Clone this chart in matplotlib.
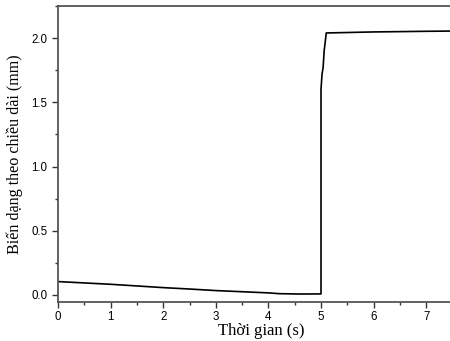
import matplotlib
matplotlib.use("Agg")
import matplotlib.pyplot as plt
from matplotlib.ticker import MultipleLocator

t = [0.0, 1.0, 2.0, 2.5, 3.0, 3.5, 4.0, 4.2, 4.6, 5.0, 5.0, 5.02, 5.04, 5.06, 5.10, 6.0, 7.0, 7.5]
strain = [0.104, 0.083, 0.057, 0.046, 0.034, 0.025, 0.016, 0.010, 0.007, 0.008, 1.60, 1.72, 1.77, 1.90, 2.04, 2.048, 2.053, 2.055]

xlabel = "Thời gian (s)"
ylabel = "Biến dạng theo chiều dài (mm)"

fig = plt.figure(figsize=(4.5, 3.41), dpi=100)
ax = fig.add_axes([58/450, 39/341, 394.5/450, 296/341])
ax.plot(t, strain, color="black", lw=1.2)
ax.set_xlim(0, 7.5)
ax.set_ylim(-0.055, 2.25)
ax.xaxis.set_major_locator(MultipleLocator(1))
ax.xaxis.set_minor_locator(MultipleLocator(0.5))
ax.yaxis.set_major_locator(MultipleLocator(0.5))
ax.yaxis.set_minor_locator(MultipleLocator(0.25))
ax.tick_params(which="both", direction="out", colors="#333333", labelcolor="black",
               labelsize=8.3, width=1)
ax.tick_params(which="major", length=4)
ax.tick_params(which="minor", length=2.5)
ax.tick_params(axis="x", which="major", pad=2.5)
for lab in ax.get_xticklabels() + ax.get_yticklabels():
    lab.set_family("Liberation Sans")
ax.set_yticks([0, 0.5, 1.0, 1.5, 2.0])
ax.set_yticklabels(["0.0", "0.5", "1.0", "1.5", "2.0"], family="Liberation Sans")
for s in ax.spines.values():
    s.set_color("#555555")
    s.set_linewidth(1.3)
ax.set_xlabel(xlabel, family="Liberation Serif", fontsize=12)
ax.xaxis.set_label_coords(0.515, -0.071)
ax.set_ylabel(ylabel, family="Liberation Serif", fontsize=11.6, labelpad=6)
fig.savefig("out.png", dpi=100)
